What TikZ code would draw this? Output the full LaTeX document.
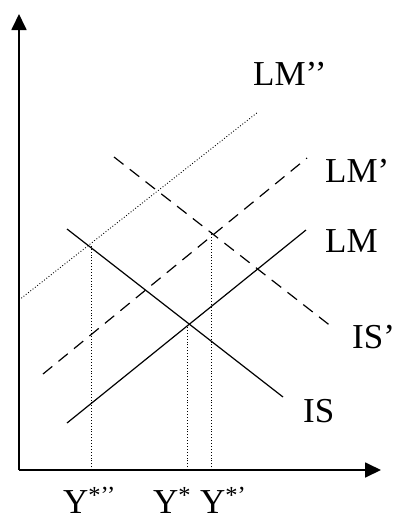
\documentclass[tikz,border=0pt]{standalone}
\usepackage{fontspec}
\setmainfont{Liberation Serif}
\usetikzlibrary{arrows.meta}
\begin{document}
\begin{tikzpicture}[x=1pt,y=-1pt,
  axis/.style={line width=1.8pt,-{Triangle[width=15pt,length=16pt]}},
  curve/.style={line width=1.2pt},
  dashcurve/.style={line width=1.2pt,dash pattern=on 12pt off 8pt},
  dotcurve/.style={line width=0.9pt,dotted},
  guide/.style={line width=0.9pt,dotted},
  lbl/.style={font=\fontsize{35}{38}\selectfont,inner sep=0pt,anchor=base west}]
\useasboundingbox (0,0) rectangle (394,517);
\coordinate (O) at (19,470);
\coordinate (ytop) at (19,14);
\coordinate (xend) at (381,470);
\draw[axis] (O) -- (ytop);
\draw[axis] (O) -- (xend);
% curves
\coordinate (lmppA) at (19,300); \coordinate (lmppB) at (258,112);
\coordinate (lmpA) at (43,374); \coordinate (lmpB) at (307,158);
\coordinate (lmA) at (67,423); \coordinate (lmB) at (306,230);
\coordinate (isA) at (67,229); \coordinate (isB) at (283,397);
\coordinate (ispA) at (114,157); \coordinate (ispB) at (332,327);
\draw[dotcurve] (lmppA) -- (lmppB);
\draw[dashcurve] (lmpA) -- (lmpB);
\draw[curve] (lmA) -- (lmB);
\draw[curve] (isA) -- (isB);
\draw[dashcurve] (ispA) -- (ispB);
% guides
\coordinate (e2) at (91,245); \coordinate (b2) at (91,470);
\coordinate (e0) at (187,325); \coordinate (b0) at (187,470);
\coordinate (e1) at (211,232); \coordinate (b1) at (211,470);
\draw[guide] (b2) -- (e2);
\draw[guide] (b0) -- (e0);
\draw[guide] (b1) -- (e1);
% labels
\node[lbl] (tLMpp) at (253,85) {LM’’};
\node[lbl] (tLMp) at (325,182) {LM’};
\node[lbl] (tLM) at (325,252) {LM};
\node[lbl] (tISp) at (352,348) {IS’};
\node[lbl] (tIS) at (303,422) {IS};
\node[lbl] (tY2) at (63,513) {Y\textsuperscript{*’’}};
\node[lbl] (tY0) at (153,513) {Y\textsuperscript{*}};
\node[lbl] (tY1) at (200,513) {Y\textsuperscript{*’}};
\end{tikzpicture}
\end{document}
